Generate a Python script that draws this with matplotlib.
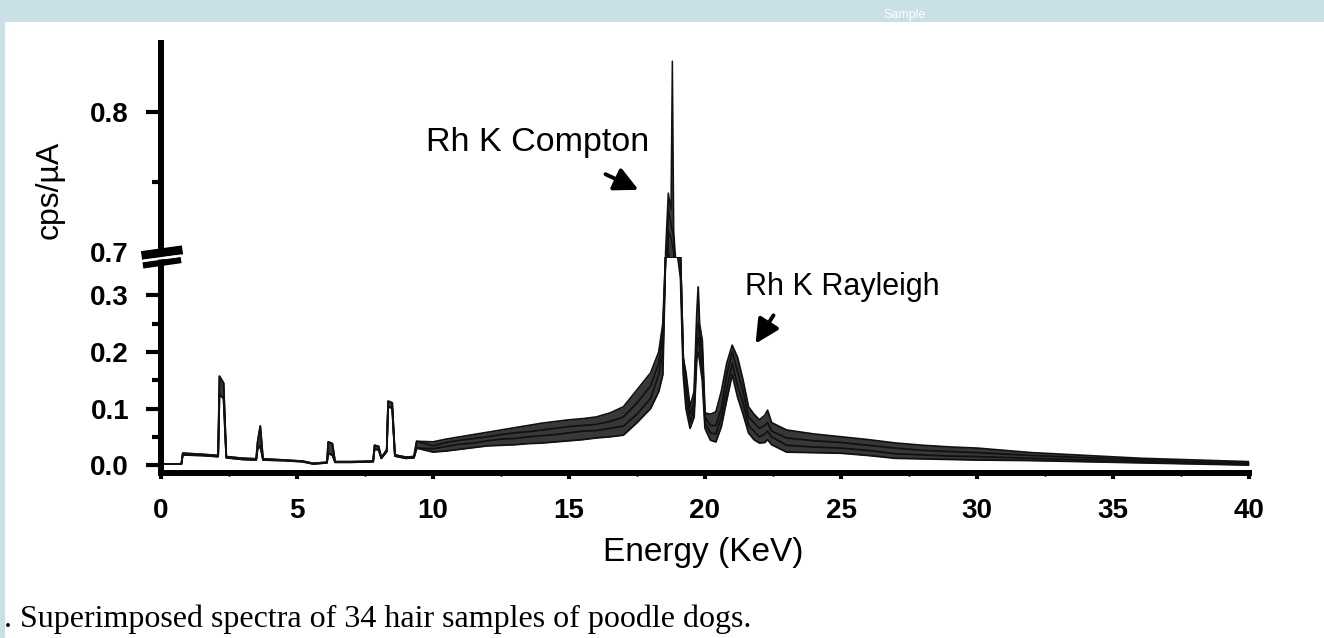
import matplotlib
matplotlib.use('Agg')
import matplotlib.pyplot as plt
import numpy as np
from matplotlib.lines import Line2D
from matplotlib.patches import Rectangle

plt.rcParams['font.family'] = ['Liberation Sans', 'DejaVu Sans']

# fluorescence part (0 - 9.4 keV), nearly the same for every sample
e_fluor = [0.0, 0.75, 0.8, 1.5, 2.1, 2.15, 2.3, 2.4, 3.0, 3.5, 3.55, 3.65, 3.75, 4.5, 5.2, 5.6,
           6.1, 6.15, 6.3, 6.4, 7.0, 7.8, 7.85, 8.0, 8.1, 8.3, 8.35, 8.5, 8.6, 9.0, 9.3, 9.4]
fluor_min = [0.002, 0.002, 0.018, 0.017, 0.015, 0.125, 0.118, 0.013, 0.010, 0.009, 0.028, 0.034,
             0.009, 0.008, 0.006, 0.002, 0.004, 0.020, 0.018, 0.005, 0.005, 0.006, 0.028, 0.027,
             0.012, 0.024, 0.104, 0.100, 0.016, 0.012, 0.013, 0.030]
fluor_max = [0.002, 0.002, 0.021, 0.019, 0.017, 0.157, 0.145, 0.015, 0.012, 0.011, 0.040, 0.069,
             0.011, 0.009, 0.007, 0.003, 0.005, 0.041, 0.038, 0.006, 0.006, 0.007, 0.035, 0.033,
             0.013, 0.027, 0.113, 0.110, 0.018, 0.014, 0.015, 0.042]

# scatter part (10 - 40 keV), the samples spread out here
e_scatter = [10.0, 10.5, 11.0, 11.5, 12.0, 12.5, 13.0, 13.5, 14.0, 14.5, 15.0, 15.5, 16.0, 16.5, 17.0, 17.5, 18.0,
             18.3, 18.45, 18.55, 18.65, 18.75, 18.8, 18.85, 18.9, 19.0, 19.1, 19.2, 19.3, 19.45,
             19.6, 19.7, 19.75, 19.8, 19.9, 20.0,
             20.2, 20.4, 20.6, 20.8, 21.0, 21.2, 21.4, 21.6, 21.8, 22.0, 22.2, 22.3, 22.45,
             23.0, 24.0, 25.0, 26.0, 27.0, 28.0, 29.0, 30.0,
             32.0, 34.0, 36.0, 38.0, 40.0]
scatter_a = [.023, .025, .028, .031, .034, .035, .036, .038, .039, .041, .043, .045, .048, .050, .053, .075, .100,
             .130, .160, .50, .700, .690, .690, .680, .620, .450, .330, .160, .100, .065,
             .085, .190, .200, .185, .150, .065,
             .044, .041, .068, .115, .160, .120, .090, .057, .045, .039, .040, .045, .036,
             .023, .022, .021, .017, .012, .011, .010, .009,
             .008, .006, .004, .002, .000]
scatter_b = [.029, .033, .037, .039, .043, .046, .047, .050, .052, .054, .057, .060, .061, .065, .069, .090, .118,
             .160, .200, .60, .715, .710, .705, .700, .660, .550, .400, .180, .120, .076,
             .100, .215, .225, .210, .170, .075,
             .057, .055, .085, .135, .180, .140, .110, .070, .060, .050, .055, .060, .050,
             .035, .032, .030, .026, .020, .018, .016, .015,
             .012, .009, .007, .004, .002]
scatter_c = [.034, .040, .044, .047, .050, .054, .057, .059, .062, .065, .068, .070, .072, .077, .085, .110, .140,
             .180, .230, .66, .730, .720, .715, .710, .690, .620, .450, .190, .140, .090,
             .110, .240, .250, .230, .200, .085,
             .070, .070, .100, .160, .200, .165, .130, .085, .075, .065, .070, .075, .060,
             .048, .043, .040, .035, .030, .026, .024, .022,
             .017, .013, .010, .006, .004]
scatter_d = [.041, .046, .050, .054, .058, .062, .066, .070, .074, .077, .080, .082, .085, .092, .103, .133, .163,
             .200, .250, .70, .742, .730, .836, .715, .700, .680, .500, .190, .163, .103,
             .130, .270, .315, .250, .220, .092,
             .090, .094, .130, .180, .212, .190, .150, .103, .090, .080, .088, .097, .075,
             .062, .055, .050, .045, .039, .035, .032, .030,
             .022, .017, .012, .009, .006]

energy = np.array(e_fluor + e_scatter)
spectra = [np.array(fluor_min + scatter_a), np.array(fluor_min + scatter_b),
           np.array(fluor_max + scatter_c), np.array(fluor_max + scatter_d)]

W, H = 1324, 638
def fx(px):
    return px / W
def fy(py):
    return 1 - py / H

fig = plt.figure(figsize=(W / 100, H / 100), dpi=100, facecolor='#c8e0e6')
fig.patches.append(Rectangle((fx(5), 0), 1, fy(22), transform=fig.transFigure,
                             facecolor='white', edgecolor='none', zorder=-1))

lo_top = 0.368
ax_lo = fig.add_axes([fx(161), fy(473), fx(1249) - fx(161), fy(257) - fy(473)])
ax_hi = fig.add_axes([fx(161), fy(257), fx(1249) - fx(161), fy(43) - fy(257)])
for ax in (ax_lo, ax_hi):
    ax.set_facecolor('none')
    ax.set_xlim(0, 40)
    for s in ['top', 'right']:
        ax.spines[s].set_visible(False)
    ax.spines['left'].set_linewidth(4.3)
ax_lo.spines['bottom'].set_linewidth(4.3)
ax_hi.spines['bottom'].set_visible(False)
ax_lo.set_ylim(-0.014, lo_top)
ax_hi.set_ylim(0.6964, 0.849)

ax_lo.fill_between(energy, np.minimum(spectra[0], lo_top), np.minimum(spectra[3], lo_top),
                   color='#1c1c1c', alpha=0.88, lw=0)
ax_hi.fill_between(energy, spectra[0], spectra[3], color='#1c1c1c', alpha=0.88, lw=0)
for s in spectra:
    ax_lo.plot(energy, np.minimum(s, lo_top), color='#111111', lw=1.3)
    ax_hi.plot(energy, s, color='#111111', lw=1.1)

# y ticks
ax_lo.set_yticks([0, 0.1, 0.2, 0.3])
ax_lo.set_yticklabels(['0.0', '0.1', '0.2', '0.3'], fontweight='bold')
ax_lo.set_yticks([0.05, 0.15, 0.25], minor=True)
ax_hi.set_yticks([0.7, 0.8])
ax_hi.set_yticklabels(['0.7', '0.8'], fontweight='bold')
ax_hi.set_yticks([0.75], minor=True)
for ax in (ax_lo, ax_hi):
    ax.tick_params(axis='y', which='major', length=11, width=3, pad=12, labelsize=20)
    ax.tick_params(axis='y', which='minor', length=6.5, width=3)
ax_hi.yaxis.get_major_ticks()[0].tick1line.set_visible(False)

# x ticks
ax_lo.set_xticks(range(0, 41, 5))
ax_lo.set_xticklabels([str(v) for v in range(0, 41, 5)], fontweight='bold')
ax_lo.set_xticks(np.arange(2.5, 40, 5), minor=True)
ax_lo.tick_params(axis='x', which='major', length=4, width=3, pad=14, labelsize=20)
ax_lo.tick_params(axis='x', which='minor', length=2.5, width=2)
ax_hi.set_xticks([])

# axis break marks
fig.add_artist(Line2D([fx(146), fx(178)], [fy(255), fy(250.5)], color='black', lw=6.5, transform=fig.transFigure))
fig.add_artist(Line2D([fx(146), fx(178)], [fy(265), fy(260.5)], color='black', lw=4.5, transform=fig.transFigure))
fig.add_artist(Line2D([fx(144), fx(180)], [fy(260.5), fy(255.7)], color='white', lw=1.6, transform=fig.transFigure))

fig.text(fx(50), fy(190), 'cps/\u00b5A', rotation=90, fontsize=23, ha='center', va='center')
fig.text(fx(703), fy(553), 'Energy (KeV)', fontsize=24, ha='center', va='center')

fig.text(fx(538), fy(143), 'Rh K Compton', fontsize=24.5, ha='center', va='center')
fig.text(fx(842), fy(287), 'Rh K Rayleigh', fontsize=22, ha='center', va='center')
ax_hi.annotate('', xy=(fx(641), fy(191)), xytext=(fx(603), fy(173)), xycoords='figure fraction',
               textcoords='figure fraction', annotation_clip=False,
               arrowprops=dict(arrowstyle='-|>', color='black', lw=2.8, mutation_scale=36))
ax_hi.annotate('', xy=(fx(754), fy(346)), xytext=(fx(775), fy(313)), xycoords='figure fraction',
               textcoords='figure fraction', annotation_clip=False,
               arrowprops=dict(arrowstyle='-|>', color='black', lw=2.8, mutation_scale=36))

fig.text(fx(4), fy(627), '. Superimposed spectra of 34 hair samples of poodle dogs.',
         family=['Liberation Serif', 'DejaVu Serif'], fontsize=23, va='baseline')
fig.text(fx(905), fy(15), 'Sample', color='white', fontsize=9, ha='center', va='center')

fig.savefig('out.png', dpi=100, facecolor=fig.get_facecolor())
